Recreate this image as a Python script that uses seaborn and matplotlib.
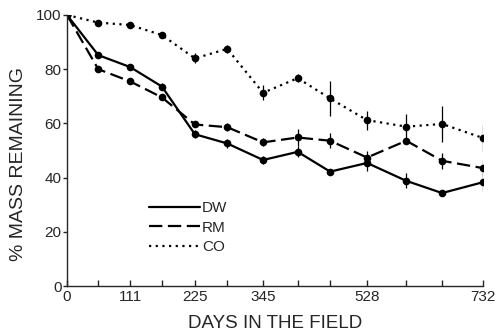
import numpy as np
import pandas as pd
import matplotlib
matplotlib.use("Agg")
import matplotlib.pyplot as plt
import seaborn as sns
from matplotlib.lines import Line2D

days = [0, 55, 111, 167, 225, 282, 345, 406, 463, 528, 597, 660, 732]
dw = [100, 85.2, 80.8, 73.6, 56.0, 52.6, 46.5, 49.5, 42.2, 45.4, 38.8, 34.3, 38.3]
rm = [100, 80.0, 75.5, 69.6, 59.6, 58.6, 53.0, 54.8, 53.6, 47.4, 53.6, 46.2, 43.5]
co = [100, 97.2, 96.3, 92.6, 84.0, 87.5, 71.3, 76.7, 69.2, 61.2, 58.8, 59.8, 54.6]
dw_err = [0, 1.2, 1.0, 1.2, 1.5, 1.5, 1.5, 2.0, 1.0, 3.0, 2.8, 0.5, 3.3]
rm_err = [0, 1.0, 1.0, 1.0, 1.0, 1.5, 1.5, 3.0, 2.8, 2.5, 1.0, 3.0, 3.0]
co_err = [0, 0.8, 0.8, 1.0, 1.8, 1.5, 2.7, 1.5, 6.5, 3.5, 4.5, 6.6, 4.8]
major_ticks = [0, 111, 225, 345, 528, 732]
y_ticks = [0, 20, 40, 60, 80, 100]

series = {"DW": (dw, dw_err), "RM": (rm, rm_err), "CO": (co, co_err)}
rows = []
for name, (vals, _) in series.items():
    for d, v in zip(days, vals):
        rows.append({"days": d, "mass": v, "treatment": name})
df = pd.DataFrame(rows)

sns.set_style("ticks")
plt.rcParams["font.family"] = ["Liberation Sans", "DejaVu Sans"]

fig = plt.figure(figsize=(5.01, 3.34), dpi=100)
ax = fig.add_axes([67/501, 48/334, 416/501, 271/334])

dashes = {"DW": "", "RM": (6, 2.5), "CO": (1, 2.0)}
sns.lineplot(data=df, x="days", y="mass", style="treatment", style_order=["DW", "RM", "CO"],
             dashes=dashes, color="black", linewidth=1.6, marker="o", markersize=5.5,
             markeredgewidth=0, ax=ax, legend=False)

for name, (vals, errs) in series.items():
    ax.errorbar(days, vals, yerr=errs, fmt="none", ecolor="black", elinewidth=0.9, capsize=0)

handles = [Line2D([], [], color="black", lw=1.6, linestyle=ls) for ls in
           ["-", (0, (6, 2.5)), (0, (1, 2.0))]]
leg = ax.legend(handles, ["DW", "RM", "CO"], loc="center left", bbox_to_anchor=(0.165, 0.215),
                frameon=False, handlelength=3.3, handletextpad=0.15, labelspacing=0.35,
                fontsize=11)

ax.set_xlim(0, 732)
ax.set_ylim(0, 100)
ax.set_xticks(major_ticks)
ax.set_xticklabels([str(t) for t in major_ticks], fontsize=11)
ax.set_xticks([d for d in days if d not in major_ticks], minor=True)
ax.set_yticks(y_ticks)
ax.set_yticklabels([str(t) for t in y_ticks], fontsize=11)
ax.tick_params(axis="x", which="both", direction="in", length=4, width=1, pad=3)
ax.tick_params(axis="y", direction="out", length=3, width=1, pad=1)
for s in ["top", "right"]:
    ax.spines[s].set_visible(False)
for s in ["left", "bottom"]:
    ax.spines[s].set_linewidth(1.0)
ax.set_xlabel("DAYS IN THE FIELD", fontsize=13.5, labelpad=8)
ax.set_ylabel("% MASS REMAINING", fontsize=14)
ax.yaxis.set_label_coords(-0.095, 0.45)

fig.savefig("out.png", dpi=100)
